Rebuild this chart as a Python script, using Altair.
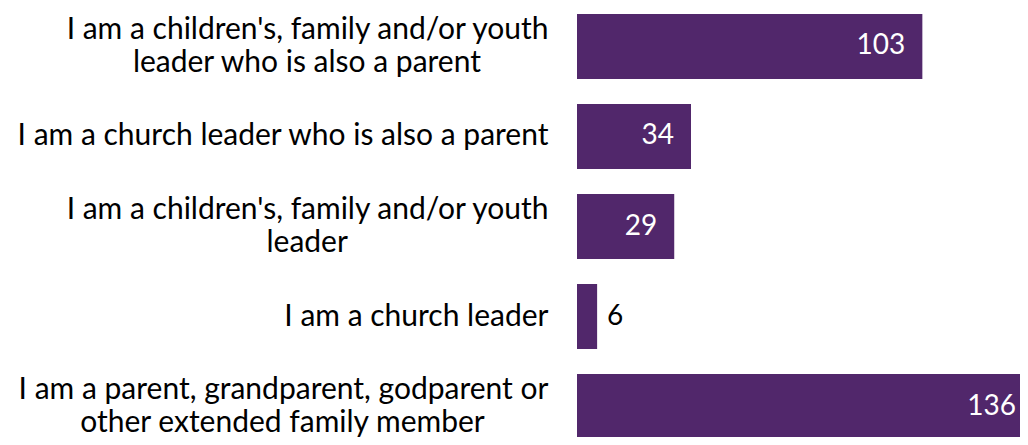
import altair as alt
import pandas as pd

EM = "\u2003"
EN = "\u2002"
THIN = "\u2009"
HAIR = "\u200a"
END = "\u200d"

categories = [
    "I am a children's, family and/or youth|leader who is also a parent" + EM * 2 + EN + THIN * 2 + END,
    "I am a church leader who is also a parent",
    "I am a children's, family and/or youth|leader" + EM * 8 + EN + THIN + HAIR + END,
    "I am a church leader",
    "I am a parent, grandparent, godparent or|other extended family member" + EM * 2 + EN + THIN + END,
]
values = [103, 34, 29, 6, 136]
label_inside = [True, True, True, False, True]

df = pd.DataFrame({"cat": categories, "value": values, "inside": label_inside})

FONT = "Lato"
PURPLE = "#51276b"

y_enc = alt.Y(
    "cat:N",
    sort=categories,
    scale=alt.Scale(range=[0, 437], paddingInner=0.278, paddingOuter=0.0667),
    axis=alt.Axis(
        title=None, domain=False, ticks=False, labelFont=FONT, labelFontSize=30,
        labelColor="#000000", labelPadding=29, labelLimit=1000,
        labelLineHeight=33, labelExpr="split(datum.label, '|')",
        labelOffset={"condition": {"test": "indexof(datum.value, '|') >= 0", "value": -16.5}, "value": 0},
    ),
)
x_enc = alt.X(
    "value:Q",
    scale=alt.Scale(domain=[0, 136], range=[0, 456], nice=False, zero=True),
    axis=None,
)

base = alt.Chart(df).encode(y=y_enc, x=x_enc)

bars = base.mark_bar(color=PURPLE, clip=True)
inside = base.transform_filter("datum.inside").mark_text(
    align="right", baseline="middle", dx=-17, color="white", font=FONT, fontSize=28
).encode(text="value:Q")
outside = base.transform_filter("!datum.inside").mark_text(
    align="left", baseline="middle", dx=10, color="black", font=FONT, fontSize=28
).encode(text="value:Q")

chart = (
    alt.layer(bars, inside, outside)
    .properties(
        width=443, height=429,
        autosize=alt.AutoSizeParams(type="none"),
        padding={"left": 569, "top": 0, "right": 0, "bottom": 0},
    )
    .configure_view(stroke=None)
)

chart.save("out.html", embed_options={"renderer": "svg", "actions": False})
